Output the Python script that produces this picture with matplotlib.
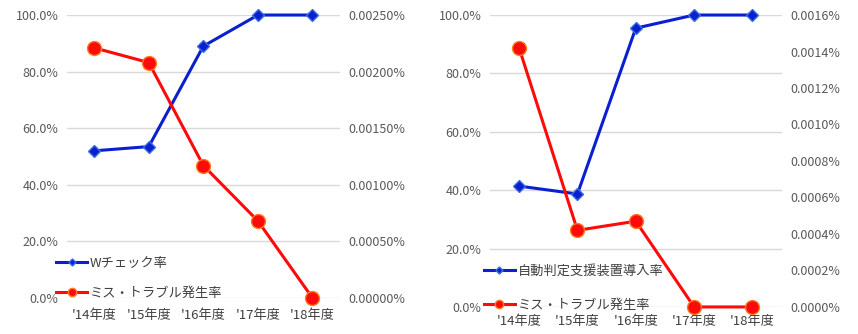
import matplotlib.pyplot as plt
from matplotlib.ticker import FuncFormatter

plt.rcParams['font.family'] = ['Noto Sans CJK JP', 'DejaVu Sans']

# data
years = ["'14年度", "'15年度", "'16年度", "'17年度", "'18年度"]

# left chart
w_check = [52.0, 53.5, 89.0, 100.0, 100.0]               # %
trouble_l = [0.00221, 0.00208, 0.00117, 0.00068, 0.0]     # %

# right chart
auto_judge = [41.4, 38.7, 95.5, 100.0, 100.0]             # %
trouble_r = [0.00142, 0.00042, 0.00047, 0.0, 0.0]         # %

label_w = 'Wチェック率'
label_auto = '自動判定支援装置導入率'
label_trouble = 'ミス・トラブル発生率'

BLUE = '#0a1fd0'
RED = '#ff0a0a'
GREY = '#595959'

fig = plt.figure(figsize=(8.58, 3.34), dpi=100)


def make_chart(rect, left_vals, right_vals, left_label, rmax, rstep, rdec,
               legend_anchor, spacing, xpad):
    ax = fig.add_axes(rect)
    x = range(len(years))
    l1, = ax.plot(x, left_vals, color=BLUE, lw=2.2, marker='D', ms=6,
                  mfc=BLUE, mec='#3a6fe0', clip_on=False, zorder=3)
    ax.set_ylim(0, 100)
    ax.set_yticks(range(0, 101, 20))
    ax.yaxis.set_major_formatter(FuncFormatter(lambda v, p: f'{v:.1f}%'))
    ax.grid(axis='y', color='#d9d9d9', lw=1)
    ax.set_axisbelow(True)
    ax.set_xlim(-0.5, len(years) - 0.5)
    ax.set_xticks(list(x))
    ax.set_xticklabels(years)

    ax2 = ax.twinx()
    l2, = ax2.plot(x, right_vals, color=RED, lw=2.2, marker='o', ms=10,
                   mfc=RED, mec='#ff7a20', mew=1, clip_on=False, zorder=3)
    ax2.set_ylim(0, rmax)
    n = int(round(rmax / rstep))
    ax2.set_yticks([i * rstep for i in range(n + 1)])
    ax2.yaxis.set_major_formatter(FuncFormatter(lambda v, p: f'{v:.{rdec}f}%'))

    for a in (ax, ax2):
        for s in a.spines.values():
            s.set_visible(False)
        a.tick_params(length=0, labelsize=9, colors=GREY, pad=6)
    ax.tick_params(axis='x', colors='#404040', labelsize=9.5, pad=xpad)

    ax2.legend([l1, l2], [left_label, label_trouble], loc='lower left',
               bbox_to_anchor=legend_anchor, frameon=False, fontsize=9.5,
               labelcolor='#404040', handlelength=2.4, handletextpad=0.2,
               labelspacing=spacing, markerscale=0.6, borderaxespad=0)
    return ax


make_chart([0.078, 0.108, 0.318, 0.847], w_check, trouble_l, label_w,
           0.0025, 0.0005, 5, (-0.06, -0.025), 1.3, 8)
make_chart([0.571, 0.081, 0.340, 0.874], auto_judge, trouble_r, label_auto,
           0.0016, 0.0002, 4, (-0.04, -0.035), 1.6, 6)

fig.savefig('out.png', dpi=100)
